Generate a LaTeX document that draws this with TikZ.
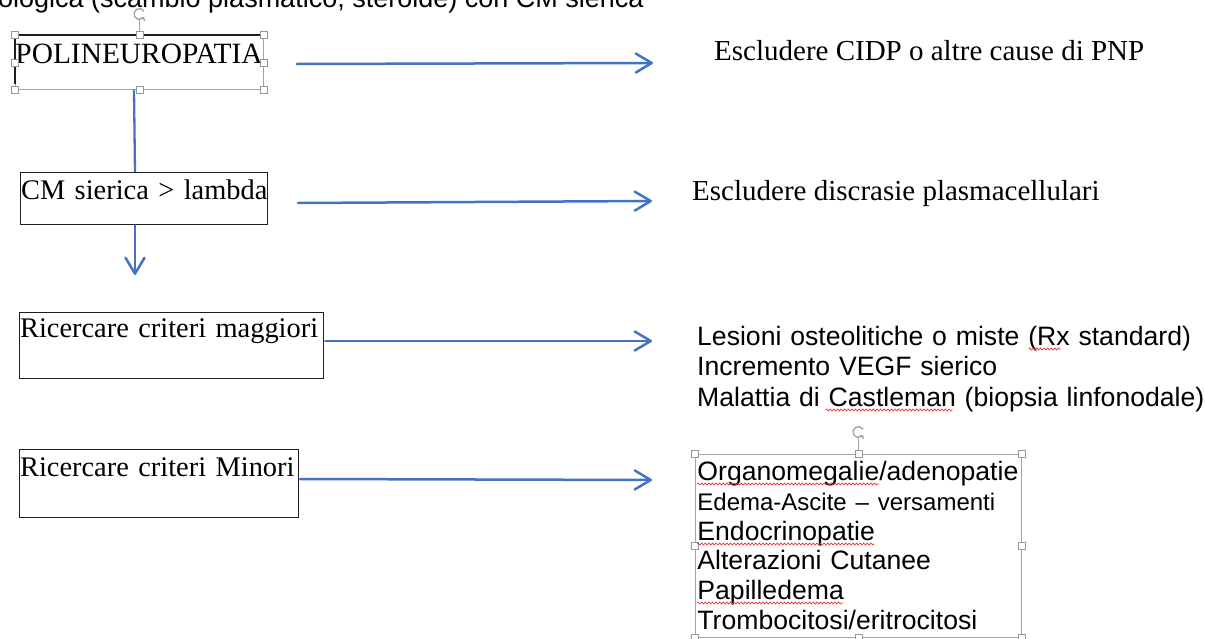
\documentclass[tikz,border=0pt]{standalone}
\usepackage{fontspec}
\setmainfont{Liberation Serif}
\newfontfamily\arialfont{Liberation Sans}
\usetikzlibrary{arrows.meta,calc,decorations.pathmorphing}
\definecolor{flowblue}{RGB}{68,114,196}
\definecolor{selgray}{RGB}{165,165,165}
\definecolor{handlegray}{RGB}{150,150,150}
\definecolor{spellred}{RGB}{235,50,50}
\definecolor{boxblack}{RGB}{30,30,30}
\begin{document}
\begin{tikzpicture}[x=1pt,y=-1pt,
  seriftext/.style={font=\fontsize{29}{34}\selectfont, inner sep=0pt},
  sanstext/.style={font=\arialfont\fontsize{26.6}{30.5}\selectfont, inner sep=0pt},
  boxnode/.style={draw=boxblack, line width=1.2pt, inner ysep=0pt, inner xsep=0.5pt,
    anchor=north west, align=left, font=\fontsize{28.4}{34}\selectfont},
  flow/.style={draw=flowblue, line width=2.5pt, line cap=round,
    -{Straight Barb[length=16pt,width=19pt,line cap=round,line join=round]}},
  plainflow/.style={draw=flowblue, line width=2.3pt},
  selframe/.style={draw=selgray, line width=0.9pt},
  handle/.style={rectangle, draw=handlegray, fill=white, line width=0.7pt,
    minimum size=7pt, inner sep=0pt},
  rotglyph/.style={draw=selgray, line width=1.4pt,
    -{Straight Barb[length=2.5pt,width=5pt]}},
  spell/.style={draw=spellred, line width=0.7pt, decorate,
    decoration={snake, amplitude=1pt, segment length=3.6pt}}
]
\useasboundingbox (0,0) rectangle (1205,639);

% line of text running off the top edge
\node[sanstext, font=\arialfont\fontsize{27}{30}\selectfont, anchor=base west] (cut) at (-2,8)
  {ologica (scambio plasmatico, steroide) con CM sierica};

% left column of steps
\node[seriftext, font=\fontsize{29.4}{34}\selectfont, anchor=north west, selframe,
  align=left, text width=248, text height=28, text depth=26] (poly) at (15,35)
  {\mbox{POLINEUROPATIA}};
\draw[draw=boxblack, line width=1.2pt] ($(poly.south west)+(0,-6)$) -- (poly.north west) -- (poly.north east);

\node[boxnode, text width=246, text height=27, text depth=25] (cm) at (20,172)
  {\mbox{CM sierica > lambda}};
\node[boxnode, text width=303, text height=25, text depth=41] (major) at (19,312)
  {\mbox{Ricercare criteri maggiori}};
\node[boxnode, text width=278, text height=27, text depth=41] (minor) at (19,449)
  {\mbox{Ricercare criteri Minori}};

% right column of outcomes
\node[seriftext, anchor=base west] (cidp) at (714,61)
  {Escludere CIDP o altre cause di PNP};
\node[seriftext, anchor=base west] (discr) at (692,201)
  {Escludere discrasie plasmacellulari};
\node[sanstext, anchor=north west, align=left, text width=505] (majlist) at (697,321)
  {\rule{0pt}{24pt}\mbox{Lesioni osteolitiche o miste (Rx standard)}\\
   \mbox{Incremento VEGF sierico}\\
   \mbox{Malattia di Castleman (biopsia linfonodale)}};
\node[sanstext, font=\arialfont\fontsize{26.6}{29.8}\selectfont, anchor=north west,
  align=left, selframe, inner xsep=2pt, inner ysep=0pt, text width=322] (minlist) at (695,454)
  {\rule{0pt}{26pt}\mbox{Organomegalie/adenopatie}\\
   {\fontsize{24}{29.8}\selectfont\mbox{Edema-Ascite – versamenti}}\\
   \mbox{Endocrinopatie}\\
   \mbox{Alterazioni Cutanee}\\
   \mbox{Papilledema}\\
   \mbox{Trombocitosi/eritrocitosi}\rule[-8pt]{0pt}{8pt}};

% selection handles on the two selected boxes
\foreach \a [count=\i] in {north west,north,north east,west,east,south west,south,south east}{
  \node[handle] (polyh\i) at (poly.\a) {};
  \node[handle] (listh\i) at (minlist.\a) {};
}
% rotation handles
\coordinate (polyrot) at ($(poly.north)+(0,-21)$);
\coordinate (listrot) at ($(minlist.north)+(0,-22)$);
\draw[selframe] (polyh2) -- ($(polyrot)+(0,6)$);
\draw[selframe] (listh2) -- ($(listrot)+(0,6)$);
\draw[rotglyph] ($(polyrot)+(4.6,-2.7)$) arc[start angle=-30, end angle=-330, radius=5.4];
\draw[rotglyph] ($(listrot)+(4.6,-2.7)$) arc[start angle=-30, end angle=-330, radius=5.4];

% spelling marks
\draw[spell] ($(majlist.north west)+(331.5,28)$) -- ++(32.5,0);
\draw[spell] ($(majlist.north west)+(128.5,89)$) -- ++(127,0);
\draw[spell] ($(minlist.north west)+(2,30)$) -- ++(182,0);
\draw[spell] ($(minlist.north west)+(2,90)$) -- ++(177,0);
\draw[spell] ($(minlist.north west)+(2,149)$) -- ++(146,0);

% connectors
\draw[plainflow] ($(poly.south west)+(119,0)$) -- ($(cm.north west)+(115,0)$);
\coordinate (cmdown) at (135,275);
\draw[flow] ($(cm.south west)+(115,0)$) -- (cmdown);
\draw[flow] ($(poly.north east)+(33,29)$) -- ($(cidp.base west)+(-61,2)$);
\draw[flow] ($(cm.north east)+(30,31)$) -- ($(discr.base west)+(-40,0)$);
\draw[flow] ($(major.north east)+(1,29)$) -- ($(majlist.north west)+(-45,20)$);
\draw[flow] ($(minor.north east)+(1,30)$) -- ($(minlist.north west)+(-43,26)$);
\end{tikzpicture}
\end{document}
